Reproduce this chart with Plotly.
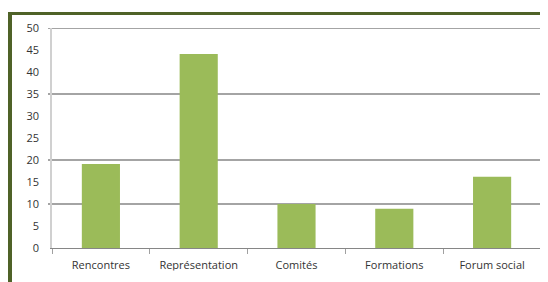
import plotly.graph_objects as go

categories = ["Rencontres", "Représentation", "Comités", "Formations", "Forum social"]
values = [19.1, 44.1, 10, 8.9, 16.2]
tick_values = [0, 5, 10, 15, 20, 25, 30, 35, 40, 45, 50]
visible_gridlines = [10, 20, 35, 50]

# browser body margin of 8px offsets the figure
OFF = 8
W, H = 548 - OFF, 282 - OFF
L, R, T, B = 52 - OFF, 7, 28 - OFF, 34
pw, ph = W - L - R, H - T - B


def px_x(p):  # reference-page pixel -> paper x
    return (p - OFF - L) / pw


def px_y(p):  # reference-page pixel -> paper y
    return (H - B - (p - OFF)) / ph


fig = go.Figure(go.Bar(
    x=categories, y=values,
    marker=dict(color="#9BBB59", line=dict(width=0)),
    width=0.39,
))

shapes = []
for g in visible_gridlines:
    shapes.append(dict(type="line", xref="paper", yref="y", x0=px_x(48), x1=1,
                       y0=g, y1=g, line=dict(color="#868686", width=1.3), layer="below"))
# white band clipping the bottom of the category labels, as in the reference
shapes.append(dict(type="rect", xref="paper", yref="paper",
                   x0=px_x(0), x1=px_x(560), y0=px_y(300), y1=px_y(270.5),
                   fillcolor="white", line=dict(width=0), layer="above"))
# decorative frame
frame = "#4F6228"
shapes.append(dict(type="rect", xref="paper", yref="paper",
                   x0=px_x(8), x1=px_x(560), y0=px_y(15), y1=px_y(12),
                   fillcolor=frame, line=dict(width=0), layer="above"))
shapes.append(dict(type="rect", xref="paper", yref="paper",
                   x0=px_x(8), x1=px_x(12), y0=px_y(300), y1=px_y(12),
                   fillcolor=frame, line=dict(width=0), layer="above"))

fig.update_layout(
    width=W, height=H,
    margin=dict(l=L, r=R, t=T, b=B, autoexpand=False),
    paper_bgcolor="white", plot_bgcolor="white",
    showlegend=False,
    bargap=0.6,
    font=dict(family="Open Sans, Liberation Sans, sans-serif", size=11, color="#404040"),
    shapes=shapes,
    xaxis=dict(
        showgrid=False, showline=True, linecolor="#868686", linewidth=1,
        ticks="outside", tickson="boundaries", ticklen=5, tickcolor="#A0A0A0",
        tickfont=dict(size=11, color="#333333"), ticklabelstandoff=7,
    ),
    yaxis=dict(
        range=[0, 50], tickvals=tick_values, showgrid=False,
        showline=True, linecolor="#D0D0D0", linewidth=1.5,
        ticks="", zeroline=False,
        tickfont=dict(size=11, color="#333333"), ticklabelstandoff=9,
    ),
)

fig.write_html("out.html")
